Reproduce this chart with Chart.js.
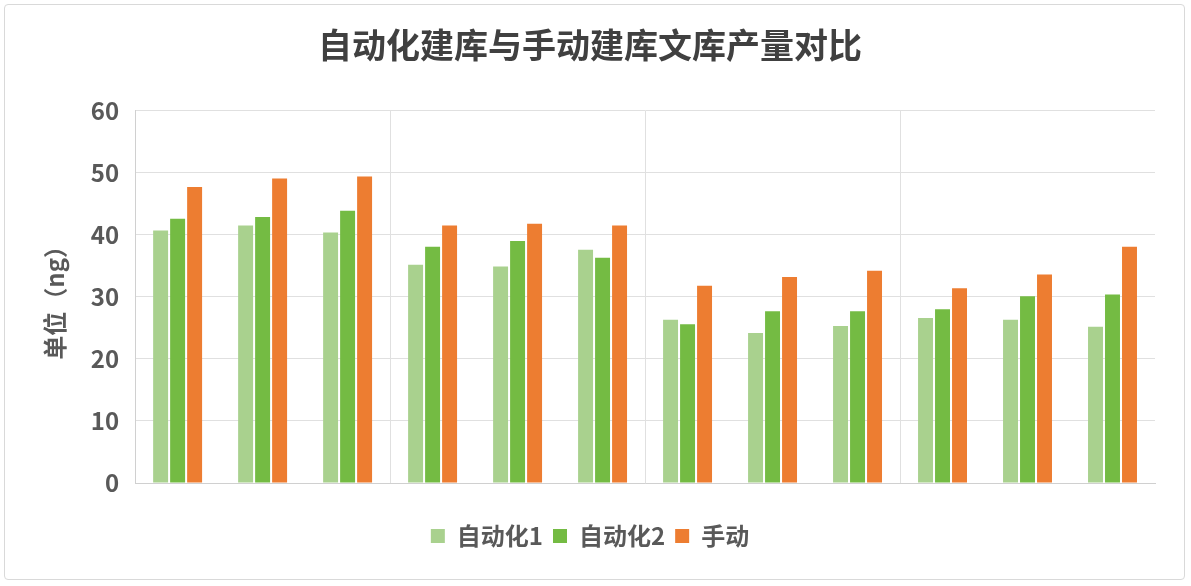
<!DOCTYPE html>
<html>
<head>
<meta charset="utf-8">
<script src="https://cdn.jsdelivr.net/npm/chart.js@4/dist/chart.umd.min.js"></script>
<style>
  html, body { margin: 0; padding: 0; background: #fff; }
  #wrap {
    position: absolute; left: 4px; top: 4px;
    width: 1181px; height: 576px;
    border: 1px solid #d9d9d9; border-radius: 4px;
    box-sizing: border-box;
  }
  canvas { display: block; }
</style>
</head>
<body>
<div id="wrap"><canvas id="yield_chart"></canvas></div>
<script>
// 12 samples, 4 groups of 3
const samples = ["1", "2", "3", "4", "5", "6", "7", "8", "9", "10", "11", "12"];
const auto1 = [40.7, 41.5, 40.4, 35.2, 34.9, 37.6, 26.3, 24.2, 25.3, 26.6, 26.3, 25.2];
const auto2 = [42.6, 42.9, 43.9, 38.1, 39.0, 36.3, 25.6, 27.7, 27.7, 28.0, 30.1, 30.4];
const manual = [47.7, 49.1, 49.4, 41.5, 41.8, 41.5, 31.8, 33.2, 34.2, 31.4, 33.6, 38.1];
const seriesNames = ["自动化1", "自动化2", "手动"];

const font = "'Noto Sans CJK SC', 'Noto Sans', sans-serif";

let yield_chart = document.getElementById("yield_chart");
let yieldChart = new Chart(yield_chart, {
  type: "bar",
  data: {
    labels: samples,
    datasets: [
      {
        label: seriesNames[0],
        data: auto1,
        backgroundColor: "#a9d18e",
      },
      {
        label: seriesNames[1],
        data: auto2,
        backgroundColor: "#74bb43",
      },
      {
        label: seriesNames[2],
        data: manual,
        backgroundColor: "#ed7d31",
      },
    ],
  },
  options: {
    responsive: true,
    maintainAspectRatio: false,
    animation: false,
    layout: {
      padding: { left: 20, right: 29, top: 8, bottom: 21 },
    },
    datasets: {
      bar: {
        categoryPercentage: 0.6,
        barPercentage: 0.88,
      },
    },
    plugins: {
      title: {
        display: true,
        text: "自动化建库与手动建库文库产量对比",
        color: "#404040",
        font: { family: font, size: 34, weight: "bold" },
        padding: { top: 12, bottom: 45 },
      },
      legend: {
        position: "bottom",
        labels: {
          color: "#595959",
          font: { family: font, size: 24, weight: "bold" },
          boxWidth: 14,
          boxHeight: 14,
          padding: 10,
        },
      },
      tooltip: { enabled: false },
    },
    scales: {
      x: {
        grid: {
          offset: true,
          color: (ctx) => (ctx.index > 0 && ctx.index % 3 === 0 ? "#e0e0e0" : "rgba(0,0,0,0)"),
          drawTicks: false,
        },
        border: { display: true, color: "#d0d0d0" },
        ticks: { display: false },
        afterFit: (axis) => {
          axis.height = 31;
        },
      },
      y: {
        min: 0,
        max: 60,
        ticks: {
          stepSize: 10,
          color: "#595959",
          padding: 16,
          font: { family: font, size: 24, weight: "bold" },
        },
        grid: { color: "#e0e0e0", drawTicks: false },
        border: { display: true, color: "#d0d0d0" },
        title: {
          display: true,
          text: "单位（ng）",
          color: "#595959",
          font: { family: font, size: 24, weight: "bold" },
          padding: { top: 15, bottom: 6 },
        },
      },
    },
  },
});
</script>
</body>
</html>
